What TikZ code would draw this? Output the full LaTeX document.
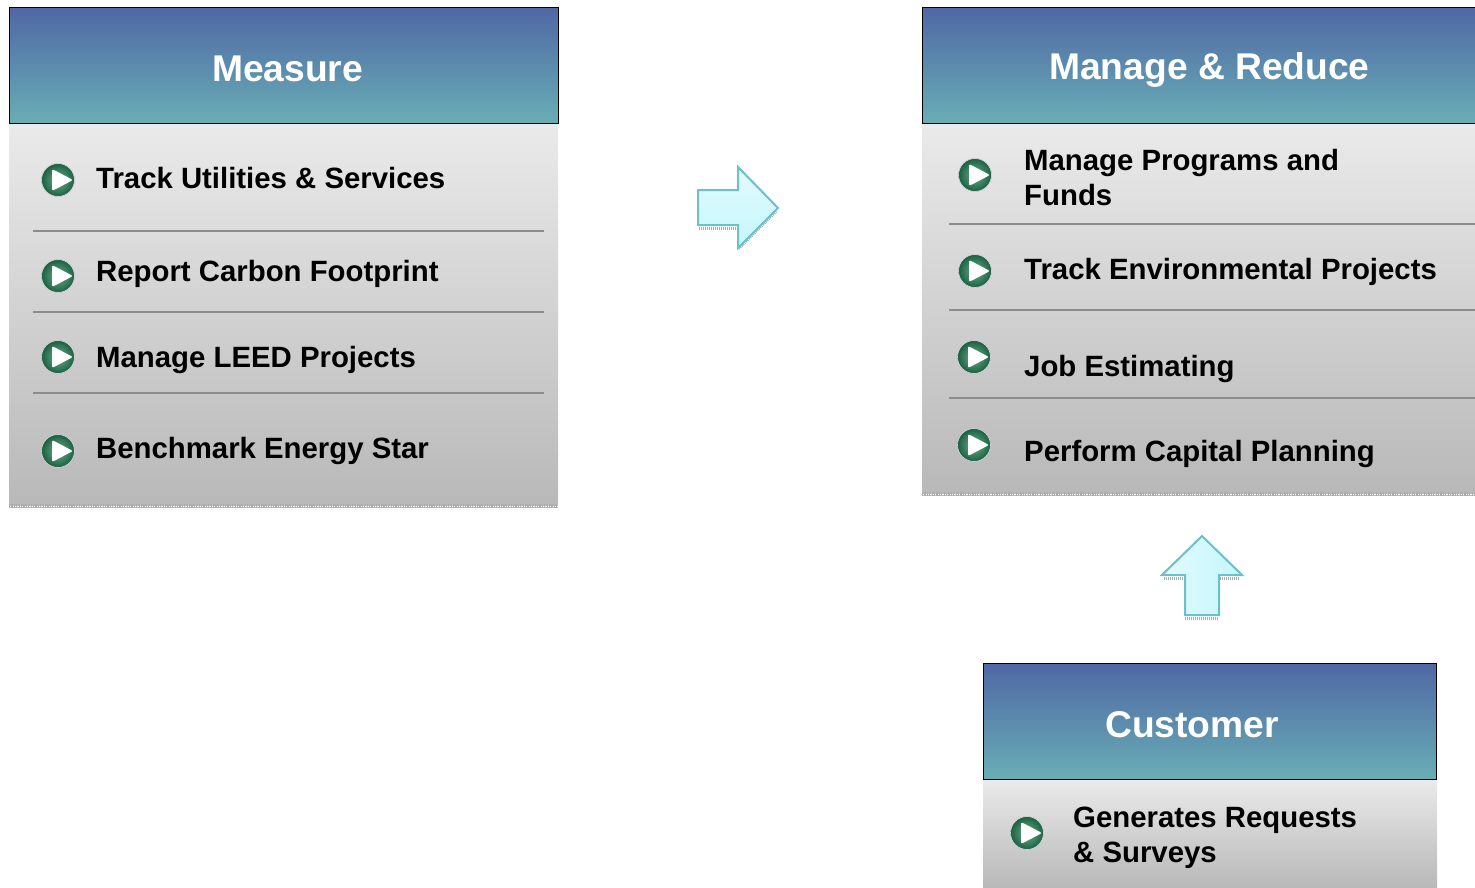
\documentclass[tikz,border=0pt]{standalone}
\usepackage{fontspec}
\setmainfont{Liberation Sans}
\usetikzlibrary{positioning}
\definecolor{headtop}{HTML}{5068A5}
\definecolor{headbot}{HTML}{68AEB5}
\definecolor{bodytop}{HTML}{EAEAEA}
\definecolor{bodybot}{HTML}{B8B8B8}
\definecolor{arrowedge}{HTML}{6CC0C8}
\definecolor{arrowfill}{HTML}{C4F6FC}
\definecolor{ballout}{HTML}{1A6040}
\definecolor{ballin}{HTML}{6DAF8C}
\tikzset{
    headbox/.style={draw=black, line width=1pt, top color=headtop, bottom color=headbot, anchor=north west, inner sep=0pt},
    bodybox/.style={top color=bodytop, bottom color=bodybot, anchor=north west, inner sep=0pt},
    titletext/.style={text=white, font=\fontsize{37.2}{37}\selectfont\bfseries},
    itemtext/.style={anchor=west, inner sep=0pt, align=left, text=black, font=\fontsize{29.35}{35}\selectfont\bfseries},
    sepline/.style={draw=gray!90, line width=2pt},
    dotedge/.style={preaction={draw=white, solid}, draw=gray!65, line width=4pt, dash pattern=on 1.2pt off 1.2pt},
    ballmark/.style={circle, minimum size=33pt, inner sep=0pt, draw=gray!35, line width=0.7pt,
        inner color=ballin, outer color=ballout,
        path picture={\fill[white, rounded corners=2pt] ([shift={(-6pt,-11pt)}]path picture bounding box.center) -- ++(21pt,11pt) -- ++(-21pt,11pt) -- cycle;}},
    blockarrow/.style={draw=arrowedge, line width=2pt, line join=miter, top color=white!50!arrowfill, bottom color=arrowfill},
}
\begin{document}
\begin{tikzpicture}[x=1pt, y=-1pt]
\useasboundingbox (0,0) rectangle (1475,888);

% measure
\node[bodybox, minimum width=549pt, minimum height=384pt] (measurebody) at (9,123.5) {};
\node[headbox, minimum width=549pt, minimum height=116pt] (measurehead) at (9,7.5) {};
\node[titletext] (measuretitle) at (287.5,69) {Measure};
\draw[dotedge] ([yshift=2pt]measurebody.south west) -- ([yshift=2pt]measurebody.south east);
\foreach \i/\by/\ty/\itemname in {1/180/178/Track Utilities \& Services, 2/276/274/Report Carbon Footprint,
    3/357/360/Manage LEED Projects, 4/451/451/Benchmark Energy Star}{
    \node[ballmark] (mball\i) at (58,\by) {};
    \node[itemtext] (mitem\i) at (96,\ty) {\itemname};
}
\foreach \y in {231,312,393}
    \draw[sepline] (33,\y) -- (544,\y);

% manage and reduce
\node[bodybox, minimum width=560pt, minimum height=372pt] (reducebody) at (922,123.5) {};
\node[headbox, minimum width=560pt, minimum height=116pt] (reducehead) at (921.5,7.5) {};
\node[titletext] (reducetitle) at (1209.5,70) {Manage \& Reduce};
\draw[dotedge] ([yshift=2pt]reducebody.south west) -- ([yshift=2pt]reducebody.south east);
\foreach \i/\bx/\by/\ty/\itemname in {1/975/175/178/{Manage Programs and\\Funds}, 2/975/271/272/Track Environmental Projects,
    3/974/357/369/Job Estimating, 4/974/445/454/Perform Capital Planning}{
    \node[ballmark] (rball\i) at (\bx,\by) {};
    \node[itemtext] (ritem\i) at (1024,\ty) {\itemname};
}
\foreach \y in {224,310,398}
    \draw[sepline] (949,\y) -- (1475,\y);

% customer
\node[bodybox, minimum width=454pt, minimum height=108pt] (custbody) at (983,780) {};
\node[headbox, minimum width=453pt, minimum height=116pt] (custhead) at (983,663) {};
\node[titletext] (custtitle) at (1192,725) {Customer};
\node[ballmark] (cball1) at (1027,833) {};
\node[itemtext] (citem1) at (1073,837.5) {Generates Requests\\\& Surveys};

% block arrows
\draw[draw=gray!65, line width=3pt, dash pattern=on 1pt off 1pt] (699,228) -- (738,228);
\draw[draw=gray!65, line width=2pt, dash pattern=on 1pt off 1pt] (739,249) -- (777,211);
\draw[blockarrow] (698,190) -- (738,190) -- (738,167) -- (778,208) -- (738,248) -- (738,225) -- (698,225) -- cycle;
\draw[draw=gray!65, line width=3pt, dash pattern=on 1pt off 1pt] (1164,578) -- (1184,578) (1220,578) -- (1240,578) (1185,618) -- (1219,618);
\draw[blockarrow, left color=white!50!arrowfill, right color=arrowfill] (1202,536) -- (1242,575) -- (1219,575) -- (1219,615) -- (1185,615) -- (1185,575) -- (1162,575) -- cycle;
\end{tikzpicture}
\end{document}
